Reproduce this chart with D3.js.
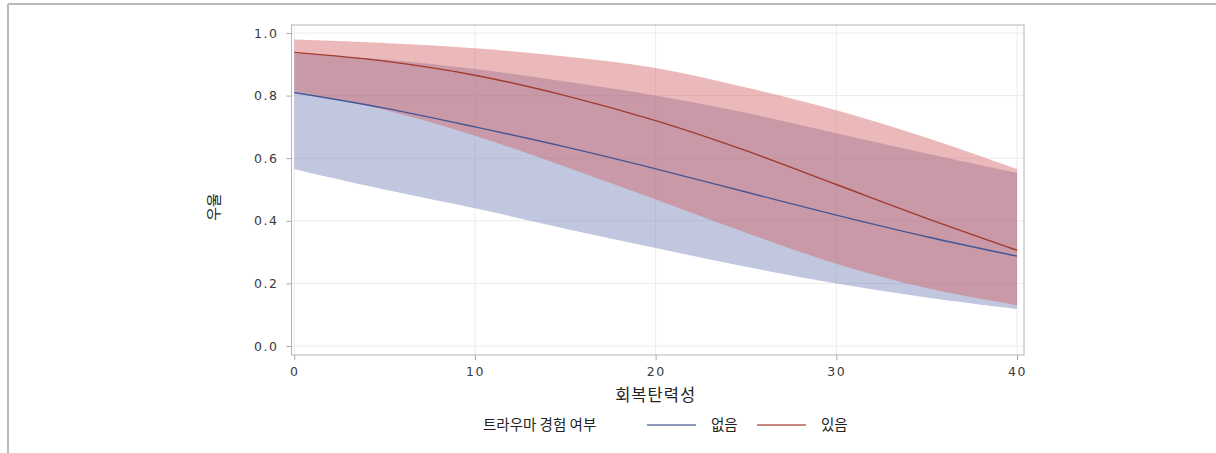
<!DOCTYPE html>
<html>
<head>
<meta charset="utf-8">
<script src="https://cdn.jsdelivr.net/npm/d3@7"></script>
<style>
  body { margin: 0; background: #fff; }
  svg { display: block; }
  .tick text { font-family: "DejaVu Sans", sans-serif; font-size: 12.5px; fill: #3a3a3a; letter-spacing: 1.5px; }
  .kr { font-family: "Noto Sans CJK KR", sans-serif; fill: #222; }
</style>
</head>
<body>
<svg id="chart"></svg>
<script>
// resilience score (x) and predicted depression probability with 95% bands
const resilience = [0, 5, 10, 15, 20, 25, 30, 35, 40]
const noneMean  = [0.81, 0.76, 0.70, 0.636, 0.566, 0.492, 0.418, 0.349, 0.287]
const noneLow   = [0.565, 0.50, 0.44, 0.375, 0.313, 0.253, 0.20, 0.155, 0.118]
const noneHigh  = [0.935, 0.915, 0.885, 0.845, 0.80, 0.745, 0.68, 0.615, 0.553]
const yesMean   = [0.938, 0.91, 0.865, 0.80, 0.72, 0.624, 0.516, 0.408, 0.306]
const yesLow    = [0.815, 0.755, 0.672, 0.573, 0.468, 0.362, 0.263, 0.185, 0.13]
const yesHigh   = [0.979, 0.968, 0.951, 0.925, 0.888, 0.826, 0.753, 0.665, 0.565]
const xTicks = [0, 10, 20, 30, 40]
const yTicks = [0, 0.2, 0.4, 0.6, 0.8, 1.0]
const groupNames = ['없음', '있음']

const W = 1216, H = 453
const frame = {left: 291.5, right: 1024, top: 25, bottom: 355}

const svg = d3.select('#chart').attr('width', W).attr('height', H)

// outer border (top and left only)
svg.append('line').attr('x1', 8).attr('x2', W).attr('y1', 4).attr('y2', 4)
  .attr('stroke', '#bababa').attr('stroke-width', 2)
svg.append('line').attr('x1', 8).attr('x2', 8).attr('y1', 4).attr('y2', H)
  .attr('stroke', '#bababa').attr('stroke-width', 2)

const x = d3.scaleLinear().domain([0, 40]).range([294.3, 1017])
const y = d3.scaleLinear().domain([0, 1]).range([346, 33])

// grid
const grid = svg.append('g')
grid.selectAll('.gx').data(xTicks).enter().append('line')
  .attr('x1', d => x(d)).attr('x2', d => x(d))
  .attr('y1', frame.top).attr('y2', frame.bottom)
  .attr('stroke', '#ececec')
grid.selectAll('.gy').data(yTicks).enter().append('line')
  .attr('x1', frame.left).attr('x2', frame.right)
  .attr('y1', d => y(d)).attr('y2', d => y(d))
  .attr('stroke', '#ececec')

const band = (lo, hi) => d3.area()
  .x((d, i) => x(resilience[i]))
  .y0((d, i) => y(lo[i]))
  .y1((d, i) => y(hi[i]))
  .curve(d3.curveCatmullRom)

const line = vals => d3.line()
  .x((d, i) => x(resilience[i]))
  .y((d, i) => y(vals[i]))
  .curve(d3.curveCatmullRom)

const colors = {none: '#445694', yes: '#a23a2e'}

svg.append('path').attr('d', band(noneLow, noneHigh)(resilience))
  .attr('fill', '#6f7eb3').attr('fill-opacity', 0.43)
svg.append('path').attr('d', band(yesLow, yesHigh)(resilience))
  .attr('fill', '#d45c5f').attr('fill-opacity', 0.43)

svg.append('path').attr('d', line(noneMean)(resilience))
  .attr('fill', 'none').attr('stroke', colors.none).attr('stroke-width', 1.4)
svg.append('path').attr('d', line(yesMean)(resilience))
  .attr('fill', 'none').attr('stroke', colors.yes).attr('stroke-width', 1.4)

// frame
svg.append('rect')
  .attr('x', frame.left).attr('y', frame.top)
  .attr('width', frame.right - frame.left).attr('height', frame.bottom - frame.top)
  .attr('fill', 'none').attr('stroke', '#b5b5b5')

// axes
const xAxis = d3.axisBottom(x).tickValues(xTicks).tickSize(5).tickSizeOuter(0).tickPadding(7)
  .tickFormat(d3.format('d'))
const gx = svg.append('g').attr('transform', `translate(0,${frame.bottom})`).call(xAxis)
gx.select('.domain').remove()
gx.selectAll('.tick line').attr('stroke', '#a8a8a8')

const yAxis = d3.axisLeft(y).tickValues(yTicks).tickSize(5).tickSizeOuter(0).tickPadding(8)
  .tickFormat(d3.format('.1f'))
const gy = svg.append('g').attr('transform', `translate(${frame.left},0)`).call(yAxis)
gy.select('.domain').remove()
gy.selectAll('.tick line').attr('stroke', '#a8a8a8')

// axis titles
svg.append('text').attr('class', 'kr')
  .attr('x', (x(0) + x(40)) / 2).attr('y', 401)
  .attr('text-anchor', 'middle').style('font-size', '16.5px').style('letter-spacing', '1px')
  .text('회복탄력성')
svg.append('text').attr('class', 'kr')
  .attr('transform', 'translate(219,207) rotate(-90)')
  .attr('text-anchor', 'middle').style('font-size', '15px')
  .text('우울')

// legend
const lg = svg.append('g').attr('transform', 'translate(0,430)')
lg.append('text').attr('class', 'kr').attr('x', 483).attr('y', 0)
  .style('font-size', '14.5px').text('트라우마 경험 여부')
const items = [{name: groupNames[0], c: colors.none, x0: 647}, {name: groupNames[1], c: colors.yes, x0: 757}]
items.forEach(it => {
  lg.append('line').attr('x1', it.x0).attr('x2', it.x0 + 49).attr('y1', -5).attr('y2', -5)
    .attr('stroke', it.c).attr('stroke-width', 1.4).attr('stroke-opacity', 0.8)
  lg.append('text').attr('class', 'kr').attr('x', it.x0 + 64).attr('y', 0)
    .style('font-size', '14.5px').text(it.name)
})
</script>
</body>
</html>
